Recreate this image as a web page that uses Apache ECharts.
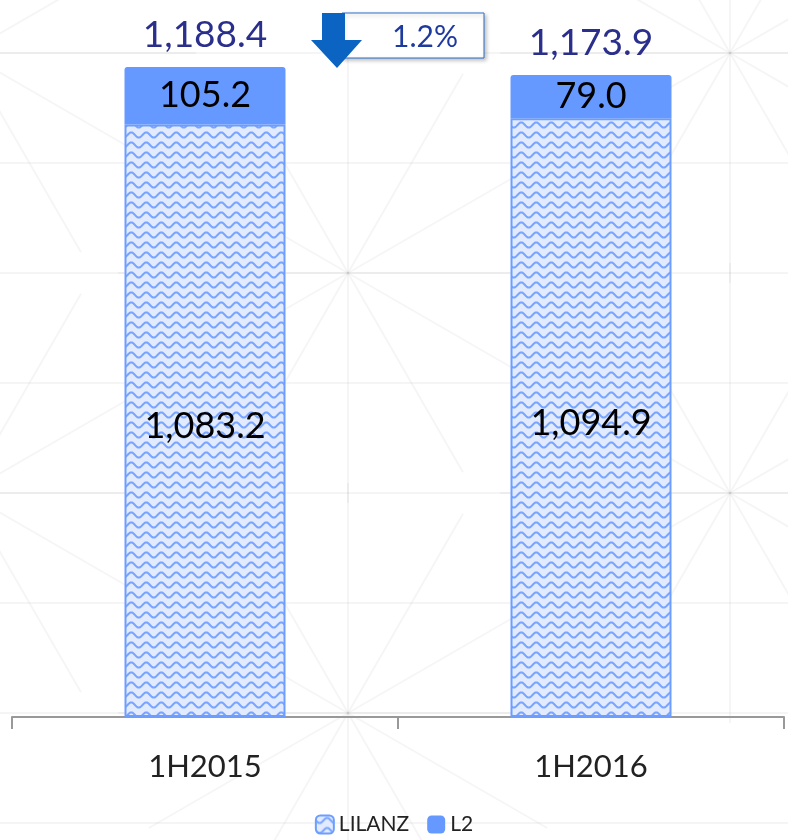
<!DOCTYPE html>
<html>
<head>
<meta charset="utf-8">
<script src="https://cdn.jsdelivr.net/npm/echarts@6/dist/echarts.min.js"></script>
<style>
html, body { margin: 0; padding: 0; background: #fff; }
#main { width: 788px; height: 840px; }
</style>
</head>
<body>
<div id="main"></div>
<script>
// 数据
var periods = ['1H2015', '1H2016'];
var lilanz = [1083.2, 1094.9];
var l2 = [105.2, 79.0];
var totals = [1188.4, 1173.9];
var changeText = '1.2%';

(function(){

// 波浪纹理
function wavePattern() {
    var c = document.createElement('canvas');
    c.width = 15;
    c.height = 10;
    var ctx = c.getContext('2d');
    ctx.fillStyle = '#e2ebfd';
    ctx.fillRect(0, 0, 15, 10);
    ctx.strokeStyle = '#79a4ff';
    ctx.lineWidth = 2;
    ctx.beginPath();
    for (var x = -1; x <= 16; x += 0.5) {
        var y = 5 + 2.6 * Math.sin(2 * Math.PI * x / 15);
        if (x === -1) ctx.moveTo(x, y); else ctx.lineTo(x, y);
    }
    ctx.stroke();
    return c;
}

function fmt(v) {
    return v.toLocaleString('en-US', {minimumFractionDigits: 1, maximumFractionDigits: 1});
}

// 背景装饰线
function backdrop() {
    var els = [];
    var lineStyle = { stroke: 'rgba(0,0,0,0.04)', lineWidth: 2 };
    for (var y = 53; y < 840; y += 110) {
        els.push({ type: 'line', silent: true, z: -10,
            shape: { x1: 0, y1: y, x2: 788, y2: y }, style: lineStyle });
    }
    var hubs = [[348, 273], [730, 493], [-34, 53], [730, 53], [-34, 493], [348, 713]];
    hubs.forEach(function (h) {
        for (var a = 0; a < 360; a += 30) {
            var r = a * Math.PI / 180;
            els.push({ type: 'line', silent: true, z: -10,
                shape: { x1: h[0], y1: h[1], x2: h[0] + 230 * Math.cos(r), y2: h[1] + 230 * Math.sin(r) },
                style: lineStyle });
        }
    });
    return els;
}

var chart = echarts.init(document.getElementById('main'));

var font = 'Lato, "Noto Sans", sans-serif';

option = {
    textStyle: { fontFamily: font },
    legend: {
        data: ['LILANZ', 'L2'],
        bottom: 0,
        left: 'center',
        itemWidth: 18,
        itemHeight: 18,
        itemGap: 18,
        textStyle: { fontSize: 21, color: '#222', fontFamily: font }
    },
    grid: {
        left: 12,
        right: 4,
        top: 6,
        bottom: 123
    },
    xAxis: {
        type: 'category',
        data: periods,
        axisLine: { lineStyle: { color: '#999', width: 2 } },
        axisTick: { show: true, length: 12, lineStyle: { color: '#999', width: 2 } },
        axisLabel: { fontSize: 31, color: '#222', margin: 34, fontFamily: font }
    },
    yAxis: {
        type: 'value',
        min: 0,
        max: 1300,
        show: false,
        splitLine: { show: false }
    },
    series: [
        {
            name: 'LILANZ',
            type: 'bar',
            stack: 'total',
            barWidth: 161,
            data: lilanz,
            itemStyle: {
                color: { image: wavePattern(), repeat: 'repeat' },
                borderColor: '#6d9eff',
                borderWidth: 2
            },
            label: {
                show: true,
                position: 'inside',
                offset: [0, 6],
                fontSize: 36,
                color: '#000',
                fontFamily: font,
                formatter: function (p) { return fmt(p.value); }
            }
        },
        {
            name: 'L2',
            type: 'bar',
            stack: 'total',
            data: l2,
            itemStyle: {
                color: '#6699ff',
                borderRadius: [3, 3, 0, 0]
            },
            label: {
                show: true,
                position: 'inside',
                fontSize: 36,
                color: '#000',
                fontFamily: font,
                formatter: function (p) { return fmt(p.value); }
            }
        },
        {
            name: 'total',
            type: 'bar',
            stack: 'total',
            data: [0, 0],
            itemStyle: { color: 'transparent' },
            label: {
                show: true,
                position: 'top',
                distance: 13,
                fontSize: 37,
                color: '#2b2f8c',
                fontFamily: font,
                formatter: function (p) { return fmt(totals[p.dataIndex]); }
            }
        }
    ],
    graphic: backdrop().concat([
        {
            type: 'rect',
            shape: { x: 342, y: 13, width: 142, height: 45 },
            style: {
                fill: '#fff',
                stroke: '#2a6fc9',
                lineWidth: 1,
                shadowBlur: 4,
                shadowColor: 'rgba(0,0,0,0.25)',
                shadowOffsetX: 2,
                shadowOffsetY: 2
            }
        },
        {
            type: 'text',
            x: 425,
            y: 37,
            style: {
                text: changeText,
                fill: '#1f3a9e',
                fontSize: 30,
                fontFamily: font,
                align: 'center',
                verticalAlign: 'middle'
            }
        },
        {
            type: 'polygon',
            shape: {
                points: [[322, 13], [345, 13], [345, 40], [362, 40], [337, 68], [311, 40], [322, 40]]
            },
            style: { fill: '#0b63c2' }
        }
    ])
};

chart.setOption(option);
})();
</script>
</body>
</html>
